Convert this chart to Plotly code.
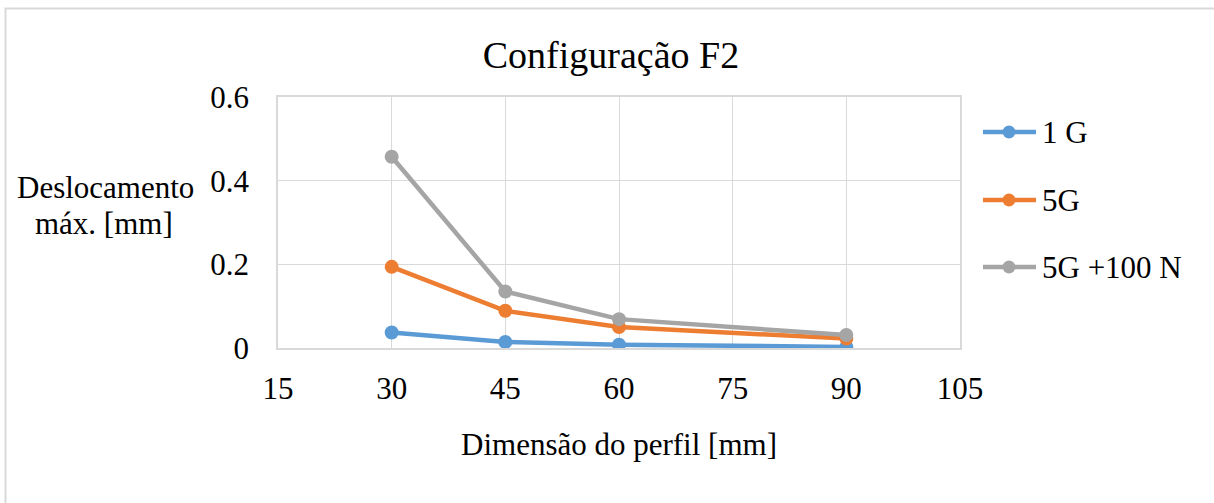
import plotly.graph_objects as go

x_vals = [30, 45, 60, 90]
series_names = ["1 G", "5G", "5G +100 N"]
y_1g = [0.037, 0.0145, 0.008, 0.0025]
y_5g = [0.194, 0.089, 0.050, 0.0225]
y_5g100 = [0.457, 0.135, 0.069, 0.031]
colors = ["#5b9bd5", "#ed7d31", "#a5a5a5"]
x_ticks = [15, 30, 45, 60, 75, 90, 105]
y_ticks = [0, 0.2, 0.4, 0.6]
y_ticktext = ["0", "0.2", "0.4", "0.6"]

W, H = 1214, 503
L, R, T, B = 278, 254, 97, 155
pw, ph = W - L - R, H - T - B


def px(xp):
    return (xp - L) / pw


def py(yp):
    return (H - B - yp) / ph


font = "'Liberation Serif', 'Times New Roman', serif"
fs = 31
fig = go.Figure()
for name, ys, c in zip(series_names, [y_1g, y_5g, y_5g100], colors):
    fig.add_trace(go.Scatter(
        x=x_vals, y=ys, name=name, mode="lines+markers",
        line=dict(color=c, width=4.5),
        marker=dict(color=c, size=14),
        showlegend=False,
    ))

grid = "#d9d9d9"
shapes = [dict(type="rect", xref="paper", yref="paper",
               x0=px(5.5), x1=px(1240), y0=py(530), y1=py(8.5),
               line=dict(color=grid, width=2), layer="below")]
annotations = [
    dict(text="Deslocamento", xref="paper", yref="paper", x=px(105), y=py(187),
         xanchor="center", yanchor="middle", showarrow=False,
         font=dict(size=fs, family=font, color="black")),
    dict(text="máx. [mm]", xref="paper", yref="paper", x=px(104), y=py(223),
         xanchor="center", yanchor="middle", showarrow=False,
         font=dict(size=fs, family=font, color="black")),
]
leg_y = [132, 200, 267]
for name, c, yy in zip(series_names, colors, leg_y):
    shapes.append(dict(type="line", xref="paper", yref="paper",
                       x0=px(983), x1=px(1036), y0=py(yy), y1=py(yy),
                       line=dict(color=c, width=4.5)))
    shapes.append(dict(type="circle", xref="paper", yref="paper",
                       xsizemode="pixel", ysizemode="pixel",
                       xanchor=px(1009), yanchor=py(yy),
                       x0=-6.5, x1=6.5, y0=-6.5, y1=6.5,
                       fillcolor=c, line=dict(color=c, width=0)))
    annotations.append(dict(text=name, xref="paper", yref="paper",
                            x=px(1040), y=py(yy), xanchor="left", yanchor="middle",
                            showarrow=False,
                            font=dict(size=fs, family=font, color="black")))

fig.update_layout(
    width=W, height=H,
    margin=dict(l=L, r=R, t=T, b=B),
    paper_bgcolor="white", plot_bgcolor="white",
    font=dict(family=font, size=fs, color="black"),
    title=dict(text="Configuração F2", x=611 / W, xanchor="center",
               y=1 - 55 / H, yanchor="middle",
               font=dict(size=38, family=font, color="black")),
    xaxis=dict(range=[15, 105], tickvals=x_ticks,
               showgrid=True, gridcolor=grid, gridwidth=1.3,
               showline=True, linecolor=grid, linewidth=1.5, mirror=True,
               zeroline=False, ticks="outside", ticklen=12, tickcolor="rgba(0,0,0,0)",
               tickfont=dict(size=fs, family=font),
               title=dict(text="Dimensão do perfil [mm]", standoff=28,
                          font=dict(size=fs, family=font))),
    yaxis=dict(range=[0, 0.6], tickvals=y_ticks, ticktext=y_ticktext,
               showgrid=True, gridcolor=grid, gridwidth=1.3,
               showline=True, linecolor=grid, linewidth=1.5, mirror=True,
               zeroline=False, ticks="outside", ticklen=21, tickcolor="rgba(0,0,0,0)",
               tickfont=dict(size=fs, family=font)),
    showlegend=False,
    annotations=annotations,
    shapes=shapes,
)
fig.write_html("out.html")
